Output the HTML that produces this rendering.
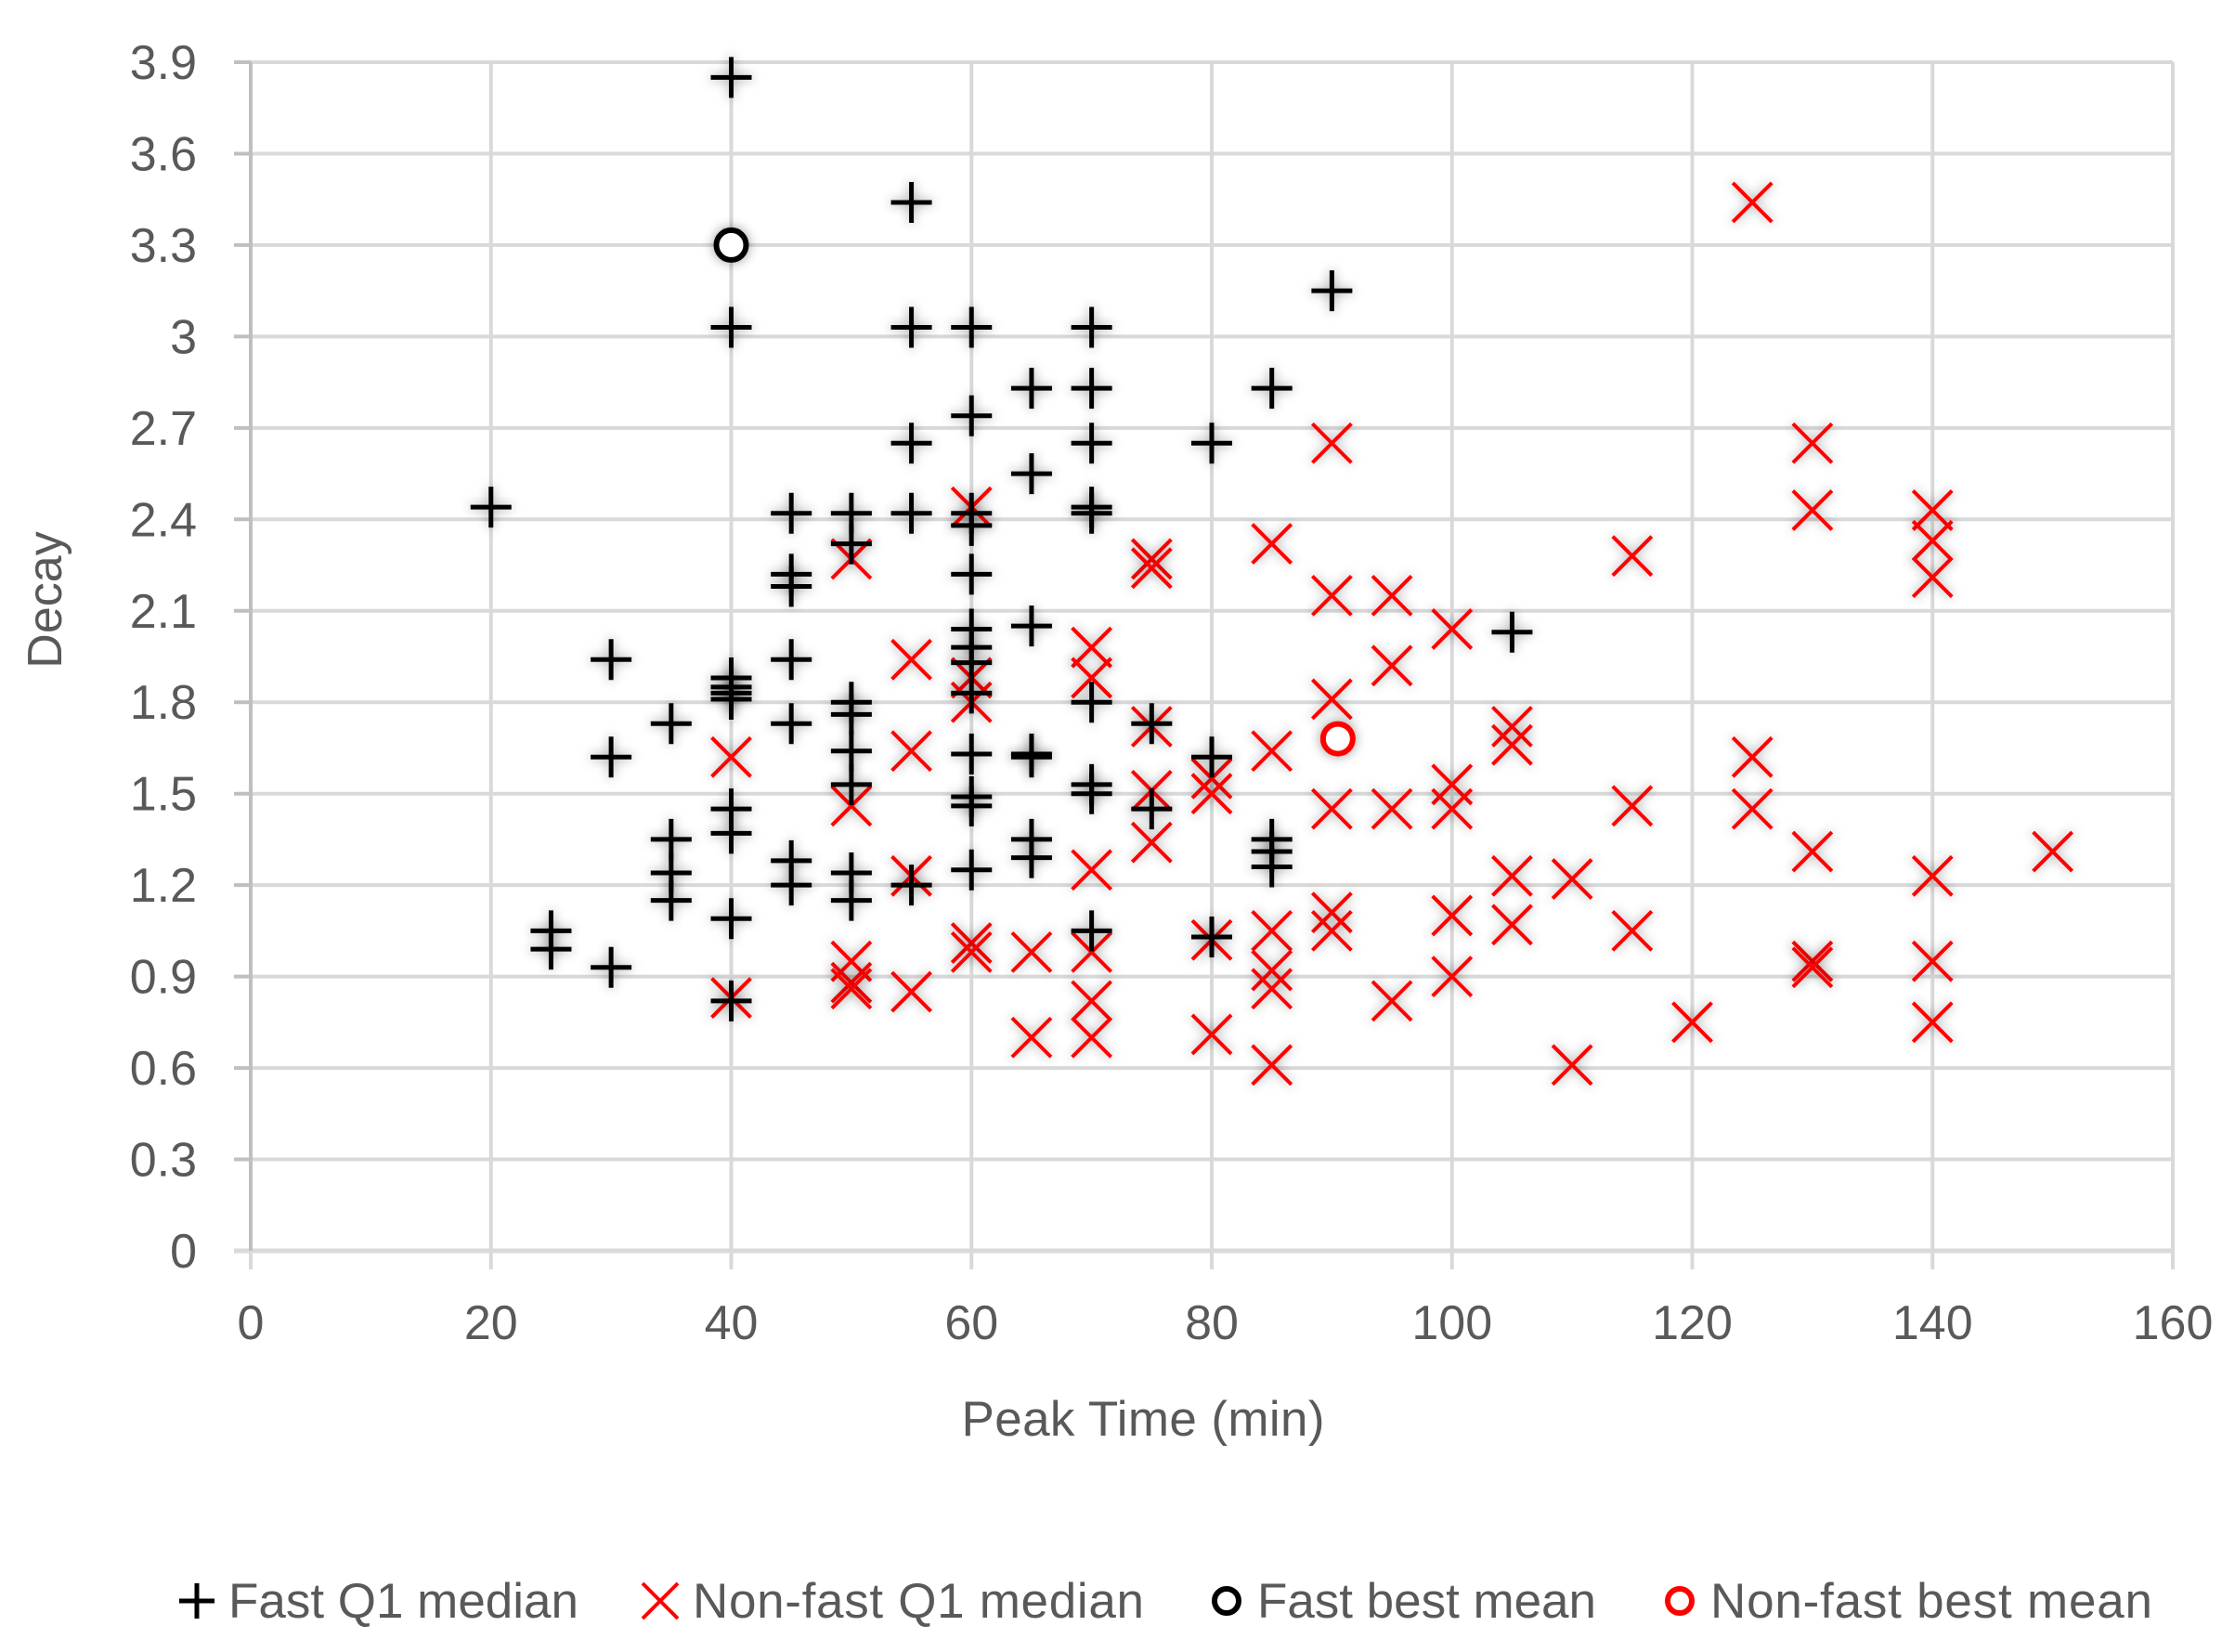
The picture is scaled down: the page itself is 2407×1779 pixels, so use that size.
<!DOCTYPE html>
<html><head><meta charset="utf-8">
<style>
html,body{margin:0;padding:0;background:#fff;}
svg{display:block;font-family:"Liberation Sans",sans-serif;}
</style></head>
<body>
<svg id="chart" width="2407" height="1779" viewBox="0 0 2407 1779" xmlns="http://www.w3.org/2000/svg">
<defs>
<filter id="glow" x="-50%" y="-50%" width="200%" height="200%">
<feDropShadow dx="0" dy="0" stdDeviation="6" flood-color="#000" flood-opacity="0.4"/>
</filter>
</defs>
<g id="grid"></g>
<g id="axes"></g>
<g id="marks"></g>
<text x="0" y="0" transform="translate(66,646) rotate(-90)" text-anchor="middle" font-size="52" fill="#595959">Decay</text>
<text x="1231" y="1546" text-anchor="middle" font-size="53" fill="#595959" textLength="391">Peak Time (min)</text>
<g>
 <g>
  <path d="M193 1724 H231 M212 1705 V1743" stroke="#000" stroke-width="5"/>
  <text x="246" y="1742" font-size="53" fill="#595959" textLength="377">Fast Q1 median</text>
 </g>
 <g>
  <path d="M692 1705 L730 1743 M730 1705 L692 1743" stroke="#ff0000" stroke-width="4"/>
  <text x="746" y="1742" font-size="53" fill="#595959" textLength="486">Non-fast Q1 median</text>
 </g>
 <g>
  <circle cx="1321" cy="1724" r="13" fill="#fff" stroke="#000" stroke-width="6"/>
  <text x="1354" y="1742" font-size="53" fill="#595959" textLength="365">Fast best mean</text>
 </g>
 <g>
  <circle cx="1809" cy="1724" r="13" fill="#fff" stroke="#ff0000" stroke-width="6"/>
  <text x="1842" y="1742" font-size="53" fill="#595959" textLength="476">Non-fast best mean</text>
 </g>
</g>
</svg>
<script>
const xTicks = [0,20,40,60,80,100,120,140,160];
const yTicks = [0,0.3,0.6,0.9,1.2,1.5,1.8,2.1,2.4,2.7,3,3.3,3.6,3.9];
const fastX = [40,55,40,55,60,70,90,65,70,85,60,55,70,80,65,20,45,50,55,60,60,70,70,50,45,45,60,65,60,105,60,30,45,60,40,40,40,40,50,50,60,70,35,45,75,30,50,60,65,65,80,50,60,60,70,70,40,75,40,35,65,85,85,35,45,50,60,65,85,45,55,35,50,40,25,25,70,80,30,40];
const fastY = [3.85,3.44,3.03,3.03,3.03,3.03,3.15,2.83,2.83,2.83,2.74,2.65,2.65,2.65,2.55,2.44,2.42,2.42,2.42,2.42,2.38,2.44,2.42,2.32,2.22,2.18,2.22,2.05,2.04,2.03,1.98,1.94,1.94,1.93,1.88,1.85,1.83,1.81,1.80,1.76,1.83,1.80,1.73,1.73,1.73,1.62,1.64,1.63,1.63,1.62,1.62,1.53,1.49,1.46,1.53,1.50,1.45,1.45,1.37,1.35,1.35,1.35,1.31,1.24,1.28,1.24,1.25,1.29,1.26,1.20,1.20,1.15,1.15,1.09,1.05,0.99,1.05,1.03,0.93,0.82];
const nonFastX = [125,90,130,60,130,140,140,140,115,75,75,85,50,90,95,100,70,55,95,60,70,60,90,105,105,40,55,85,125,75,75,80,80,100,100,50,90,95,115,125,75,130,150,55,70,105,110,140,85,90,90,100,105,115,60,60,65,70,80,50,50,50,55,40,85,85,100,130,130,140,70,70,65,80,95,85,110,120,140];
const nonFastY = [3.44,2.65,2.65,2.44,2.43,2.43,2.33,2.21,2.28,2.27,2.24,2.32,2.27,2.15,2.15,2.04,1.98,1.94,1.92,1.88,1.88,1.80,1.81,1.72,1.66,1.62,1.64,1.64,1.62,1.72,1.51,1.55,1.50,1.53,1.45,1.46,1.45,1.45,1.46,1.45,1.34,1.31,1.31,1.23,1.25,1.23,1.22,1.23,1.05,1.11,1.05,1.10,1.07,1.05,1.01,0.98,0.98,0.98,1.02,0.95,0.88,0.86,0.85,0.83,0.92,0.86,0.90,0.95,0.93,0.95,0.82,0.70,0.70,0.71,0.82,0.61,0.61,0.75,0.75];
const fastBestX = [40];
const fastBestY = [3.30];
const nonFastBestX = [90.5];
const nonFastBestY = [1.68];

const NS = "http://www.w3.org/2000/svg";
const X0 = 270, X1 = 2340, Y0 = 1347, Y1 = 67;
function sx(v){ return X0 + (v - 0) / 160 * (X1 - X0); }
function sy(v){ return Y0 - (v - 0) / 3.9 * (Y0 - Y1); }
function mk(tag, attrs, parent){
  const e = document.createElementNS(NS, tag);
  for (const k in attrs) e.setAttribute(k, attrs[k]);
  parent.appendChild(e);
  return e;
}
const grid = document.getElementById('grid');
const axes = document.getElementById('axes');
const marks = document.getElementById('marks');

yTicks.forEach(t => {
  if (t > 0) {
    const l = mk('line', {x1: X0, x2: X1, y1: sy(t), y2: sy(t), stroke: '#d9d9d9', 'stroke-width': 4}, grid);
    
    
  }
  const tk = mk('line', {x1: X0 - 18, x2: X0, y1: sy(t), y2: sy(t), stroke: '#bfbfbf', 'stroke-width': 4}, axes);
  
  
  const tx = mk('text', {x: 212, y: sy(t) + 18, 'text-anchor': 'end', 'font-size': 52, fill: '#595959'}, axes);
  tx.textContent = String(t);
  
  
});
xTicks.forEach(t => {
  if (t > 0) {
    const l = mk('line', {x1: sx(t), x2: sx(t), y1: Y1, y2: Y0, stroke: '#d9d9d9', 'stroke-width': 4}, grid);
    
    
  }
  const tk = mk('line', {x1: sx(t), x2: sx(t), y1: Y0, y2: Y0 + 20, stroke: '#d9d9d9', 'stroke-width': 4}, axes);
  
  
  const tx = mk('text', {x: sx(t), y: 1442, 'text-anchor': 'middle', 'font-size': 52, fill: '#595959'}, axes);
  tx.textContent = String(t);
  
  
});
const xa = mk('line', {x1: X0 - 18, x2: X1, y1: Y0, y2: Y0, stroke: '#d9d9d9', 'stroke-width': 5}, axes);


const ya = mk('line', {x1: X0, x2: X0, y1: Y1, y2: Y0, stroke: '#bfbfbf', 'stroke-width': 4}, axes);



const h = 21;
nonFastX.forEach((v, i) => {
  const cx = sx(v), cy = sy(nonFastY[i]);
  const p = mk('path', {d: `M${cx-h} ${cy-h} L${cx+h} ${cy+h} M${cx+h} ${cy-h} L${cx-h} ${cy+h}`, stroke: '#ff0000', 'stroke-width': 4, fill: 'none', filter: 'url(#glow)'}, marks);
  
  
});
fastX.forEach((v, i) => {
  const cx = sx(v), cy = sy(fastY[i]);
  const p = mk('path', {d: `M${cx-22} ${cy} H${cx+22} M${cx} ${cy-22} V${cy+22}`, stroke: '#000', 'stroke-width': 5, fill: 'none', filter: 'url(#glow)'}, marks);
  
  
});
fastBestX.forEach((v, i) => {
  const c = mk('circle', {cx: sx(v), cy: sy(fastBestY[i]), r: 16, fill: '#fff', stroke: '#000', 'stroke-width': 6, filter: 'url(#glow)'}, marks);
  
  
});
nonFastBestX.forEach((v, i) => {
  const c = mk('circle', {cx: sx(v), cy: sy(nonFastBestY[i]), r: 16, fill: '#fff', stroke: '#ff0000', 'stroke-width': 6, filter: 'url(#glow)'}, marks);
  
  
});
</script>
</body></html>
